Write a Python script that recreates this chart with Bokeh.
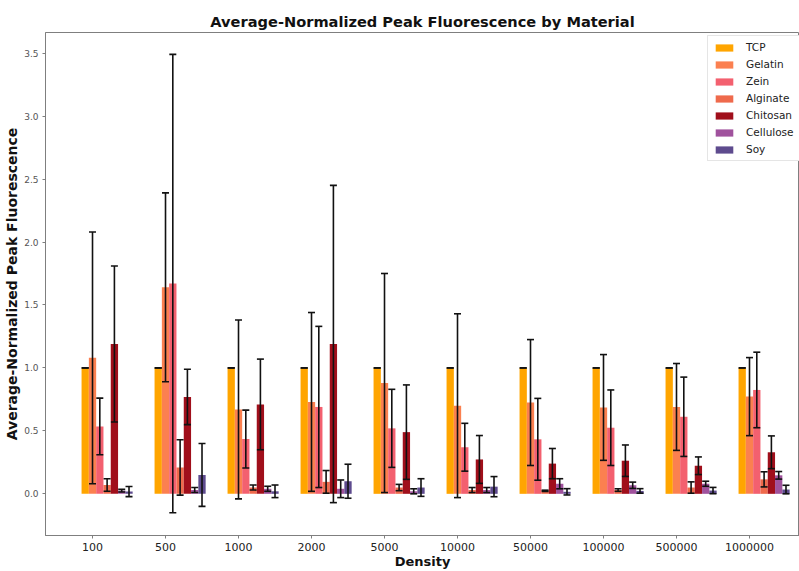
from bokeh.plotting import figure
from bokeh.models import ColumnDataSource, Whisker, TeeHead, FixedTicker, PrintfTickFormatter, Legend, LegendItem, Range1d
from bokeh.transform import dodge
from bokeh.embed import file_html
from bokeh.resources import INLINE
import numpy as np

densities = ["100", "500", "1000", "2000", "5000", "10000", "50000", "100000", "500000", "1000000"]
materials = ["TCP", "Gelatin", "Zein", "Alginate", "Chitosan", "Cellulose", "Soy"]
colors = ["#FFA500", "#FB8050", "#F3606F", "#EF6A4C", "#A00F1B", "#A0529D", "#5E4B8E"]

tcp_mean = [1.0, 1.0, 1.0, 1.0, 1.0, 1.0, 1.0, 1.0, 1.0, 1.0]
tcp_sd = [0, 0, 0, 0, 0, 0, 0, 0, 0, 0]
gelatin_mean = [1.08, 1.64, 0.67, 0.73, 0.88, 0.70, 0.725, 0.686, 0.69, 0.772]
gelatin_sd = [1.00, 0.75, 0.71, 0.71, 0.87, 0.73, 0.50, 0.42, 0.345, 0.31]
zein_mean = [0.535, 1.67, 0.435, 0.69, 0.52, 0.37, 0.433, 0.525, 0.612, 0.825]
zein_sd = [0.225, 1.82, 0.23, 0.64, 0.31, 0.19, 0.325, 0.30, 0.315, 0.30]
alginate_mean = [0.07, 0.21, 0.05, 0.095, 0.05, 0.03, 0.024, 0.03, 0.05, 0.115]
alginate_sd = [0.05, 0.22, 0.02, 0.09, 0.025, 0.02, 0.005, 0.01, 0.045, 0.06]
chitosan_mean = [1.19, 0.77, 0.71, 1.19, 0.49, 0.273, 0.24, 0.263, 0.223, 0.33]
chitosan_sd = [0.62, 0.22, 0.36, 1.26, 0.375, 0.19, 0.12, 0.125, 0.07, 0.13]
cellulose_mean = [0.025, 0.03, 0.04, 0.04, 0.02, 0.03, 0.08, 0.068, 0.08, 0.147]
cellulose_sd = [0.01, 0.02, 0.02, 0.07, 0.02, 0.02, 0.04, 0.025, 0.02, 0.03]
soy_mean = [0.018, 0.15, 0.02, 0.10, 0.05, 0.057, 0.016, 0.023, 0.026, 0.034]
soy_sd = [0.04, 0.25, 0.05, 0.135, 0.07, 0.08, 0.025, 0.018, 0.025, 0.034]

means = [tcp_mean, gelatin_mean, zein_mean, alginate_mean, chitosan_mean, cellulose_mean, soy_mean]
sds = [tcp_sd, gelatin_sd, zein_sd, alginate_sd, chitosan_sd, cellulose_sd, soy_sd]

FONT = "DejaVu Sans"

p = figure(width=799, height=571, output_backend="svg", toolbar_location=None,
           x_range=Range1d(-0.644, 9.685), y_range=Range1d(-0.331, 3.664),
           min_border_left=45, min_border_right=0, min_border_top=32, min_border_bottom=32)
p.title.text = "Average-Normalized Peak Fluorescence by Material"
p.title.text_font = FONT
p.title.text_font_size = "14.6px"
p.title.text_font_style = "bold"
p.title.text_color = "#111111"
p.title.align = "center"
p.title.offset = 5
p.title.standoff = 5
p.xgrid.visible = False
p.ygrid.visible = False
p.outline_line_color = "#7f7f7f"
p.outline_line_width = 1
p.background_fill_color = "white"

x_idx = np.arange(len(densities))
items = []
whiskers = []
for j, (m, mean, sd, c) in enumerate(zip(materials, means, sds, colors)):
    mean = np.array(mean, dtype=float)
    sd = np.array(sd, dtype=float)
    src = ColumnDataSource(dict(x=x_idx, top=mean, upper=mean + sd, lower=mean - sd))
    off = -0.1 + 0.1 * j
    r = p.vbar(x=dodge("x", off), top="top", bottom=0, width=0.1, source=src,
               fill_color=c, line_color=None)
    items.append(LegendItem(label=m, renderers=[r]))
    w = Whisker(base=dodge("x", off), upper="upper", lower="lower", source=src,
                level="glyph",
                line_color="#111111", line_width=1.6,
                upper_head=TeeHead(size=7, line_color="#111111", line_width=1.6),
                lower_head=TeeHead(size=7, line_color="#111111", line_width=1.6))
    whiskers.append(w)
for w in whiskers:
    p.add_layout(w)

legend = Legend(items=items, location=(662, 374))
legend.label_text_font = FONT
legend.label_text_font_size = "10.5px"
legend.label_text_color = "#222222"
legend.glyph_width = 22
legend.glyph_height = 9
legend.label_height = 12
legend.spacing = 5
legend.padding = 5
legend.margin = 0
legend.label_standoff = 11
legend.border_line_color = "#cccccc"
legend.background_fill_alpha = 1.0
p.add_layout(legend)

p.xaxis.ticker = FixedTicker(ticks=list(range(len(densities))))
p.xaxis.major_label_overrides = {i: d for i, d in enumerate(densities)}
p.xaxis.axis_label = "Density"
p.yaxis.axis_label = "Average-Normalized Peak Fluorescence"
p.yaxis.ticker = FixedTicker(ticks=[0, 0.5, 1.0, 1.5, 2.0, 2.5, 3.0, 3.5])
p.yaxis.formatter = PrintfTickFormatter(format="%.1f")

for ax in (p.xaxis[0], p.yaxis[0]):
    ax.axis_label_text_font = FONT
    ax.axis_label_text_font_style = "bold"
    ax.axis_label_text_color = "#111111"
    ax.major_label_text_font = FONT
    ax.axis_line_color = "#7f7f7f"
    ax.major_tick_line_color = "#7f7f7f"
    ax.minor_tick_line_color = None
    ax.major_tick_in = 0
    ax.major_tick_out = 3

p.xaxis.axis_label_text_font_size = "13px"
p.xaxis.major_label_text_font_size = "11px"
p.xaxis.major_label_text_color = "#222222"
p.xaxis.major_label_standoff = 4
p.xaxis.axis_label_standoff = 0
p.yaxis.axis_label_text_font_size = "14px"
p.yaxis.major_label_text_font_size = "9px"
p.yaxis.major_label_text_color = "#555555"
p.yaxis.major_label_standoff = 4
p.yaxis.axis_label_standoff = 1

open("out.html", "w").write(file_html(p, INLINE))
